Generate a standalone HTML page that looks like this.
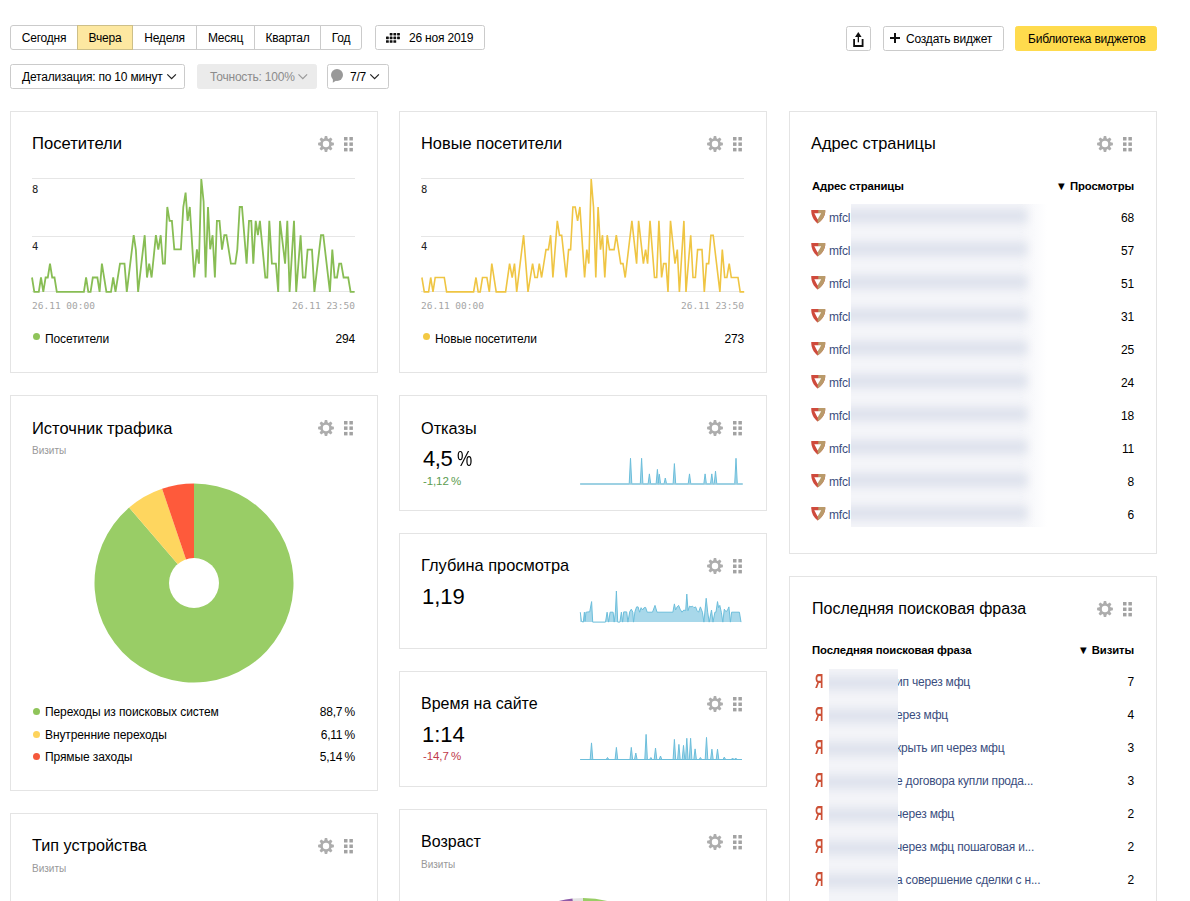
<!DOCTYPE html><html><head><meta charset="utf-8"><title>Metrica</title><style>
*{box-sizing:border-box;margin:0;padding:0}
html,body{width:1190px;height:901px;overflow:hidden;background:#fff}
body{position:relative;font-family:"Liberation Sans",Arial,sans-serif;color:#000;font-size:12px;letter-spacing:-0.2px}
.a{position:absolute;white-space:nowrap}
.btn{position:absolute;height:25px;border:1px solid #cbcbcb;border-radius:2.5px;background:#fff;line-height:24px;font-size:12px;white-space:nowrap;color:#000}
.seg{position:absolute;top:0;height:25px;border:1px solid #cbcbcb;line-height:24px;text-align:center;background:#fff}
.card{position:absolute;border:1px solid #e4e4e4;background:#fff}
.ttl{position:absolute;font-size:16.5px;line-height:16px;letter-spacing:0;color:#000;white-space:nowrap}
.sub{position:absolute;font-size:10px;line-height:10px;color:#999;white-space:nowrap;letter-spacing:0}
.lg{position:absolute;font-size:12px;line-height:12px;white-space:nowrap;letter-spacing:-0.1px}
.num{position:absolute;font-size:12px;line-height:12px;white-space:nowrap;text-align:right}
.th{position:absolute;font-size:11.3px;line-height:11px;font-weight:bold;white-space:nowrap;letter-spacing:-0.1px}
.mono{position:absolute;font-family:"DejaVu Sans Mono",monospace;font-size:9.5px;line-height:10px;letter-spacing:0;white-space:nowrap}
.dot{position:absolute;width:7px;height:7px;border-radius:50%}
.lnk{position:absolute;font-size:12px;line-height:12px;color:#3a4d7e;white-space:nowrap}
.big{position:absolute;font-size:22px;line-height:22px;letter-spacing:0;color:#000;white-space:nowrap}
.chg{position:absolute;font-size:11.5px;line-height:11px;white-space:nowrap;letter-spacing:-0.1px}
</style></head><body><div class="a" style="left:0;top:25px;width:400px;height:25px">
<div class="seg" style="left:10px;width:68px;border-radius:3px 0 0 3px;">Сегодня</div>
<div class="seg" style="left:77px;width:56px;background:#fde8a1;border-color:#cdbf88;z-index:2;">Вчера</div>
<div class="seg" style="left:132px;width:65px;">Неделя</div>
<div class="seg" style="left:196px;width:59px;">Месяц</div>
<div class="seg" style="left:254px;width:67px;">Квартал</div>
<div class="seg" style="left:320px;width:42px;border-radius:0 3px 3px 0;">Год</div>
</div>
<div class="btn" style="left:375px;top:25px;width:110px;padding-left:33px">26 ноя 2019</div>
<div class="btn" style="left:846px;top:26px;width:25px"></div>
<div class="btn" style="left:883px;top:26px;width:121px;padding-left:22px">Создать виджет</div>
<div class="btn" style="left:1015px;top:26px;width:142px;border-color:#ffdb4d;background:#ffdb4d;padding-left:12px">Библиотека виджетов</div>
<div class="btn" style="left:10px;top:64px;width:175px;padding-left:11px">Детализация: по 10 минут</div>
<div class="btn" style="left:197px;top:64px;width:120px;padding-left:12px;background:#ebebeb;border-color:#ebebeb;color:#8c8c8c">Точность: 100%</div>
<div class="btn" style="left:327px;top:64px;width:62px;padding-left:22px">7/7</div>
<div class="card" style="left:10px;top:111px;width:368px;height:262px"></div>
<div class="card" style="left:399px;top:111px;width:368px;height:262px"></div>
<div class="card" style="left:789px;top:111px;width:368px;height:443px"></div>
<div class="card" style="left:10px;top:395px;width:368px;height:396px"></div>
<div class="card" style="left:399px;top:395px;width:368px;height:116px"></div>
<div class="card" style="left:399px;top:533px;width:368px;height:116px"></div>
<div class="card" style="left:399px;top:671px;width:368px;height:116px"></div>
<div class="card" style="left:399px;top:809px;width:368px;height:200px"></div>
<div class="card" style="left:10px;top:813px;width:368px;height:200px"></div>
<div class="card" style="left:789px;top:576px;width:368px;height:400px"></div>
<div class="ttl" style="left:32px;top:136px;font-size:16.6px">Посетители</div>
<div class="ttl" style="left:421px;top:135px;font-size:16.4px">Новые посетители</div>
<div class="ttl" style="left:811px;top:135px;font-size:16.4px">Адрес страницы</div>
<div class="ttl" style="left:32px;top:420px;font-size:16.5px">Источник трафика</div>
<div class="sub" style="left:32px;top:446px;">Визиты</div>
<div class="ttl" style="left:421px;top:420px;font-size:16.3px">Отказы</div>
<div class="ttl" style="left:421px;top:557px;font-size:16.4px">Глубина просмотра</div>
<div class="ttl" style="left:421px;top:696px;font-size:16.0px">Время на сайте</div>
<div class="ttl" style="left:421px;top:834px;font-size:16.0px">Возраст</div>
<div class="sub" style="left:421px;top:860px;">Визиты</div>
<div class="ttl" style="left:32px;top:837px;font-size:16.2px">Тип устройства</div>
<div class="sub" style="left:32px;top:864px;">Визиты</div>
<div class="ttl" style="left:812px;top:601px;font-size:16.0px">Последняя поисковая фраза</div>
<div class="mono" style="left:32px;top:184px;color:#222;font-size:10.5px">8</div>
<div class="mono" style="left:32px;top:241px;color:#222;font-size:10.5px">4</div>
<div class="mono" style="left:32px;top:301px;color:#a5a5a5">26.11 00:00</div>
<div class="mono" style="right:835px;top:301px;color:#a5a5a5">26.11 23:50</div>
<div class="mono" style="left:421px;top:184px;color:#222;font-size:10.5px">8</div>
<div class="mono" style="left:421px;top:241px;color:#222;font-size:10.5px">4</div>
<div class="mono" style="left:421px;top:301px;color:#a5a5a5">26.11 00:00</div>
<div class="mono" style="right:446px;top:301px;color:#a5a5a5">26.11 23:50</div>
<div class="dot" style="left:33px;top:333px;background:#8fc45a"></div>
<div class="lg" style="left:45px;top:333px;">Посетители</div>
<div class="num" style="right:835px;top:333px;">294</div>
<div class="dot" style="left:423px;top:333px;background:#f3c944"></div>
<div class="lg" style="left:435px;top:333px;">Новые посетители</div>
<div class="num" style="right:446px;top:333px;">273</div>
<div class="dot" style="left:33px;top:708.0px;background:#8fc45a"></div>
<div class="lg" style="left:45px;top:706.0px;">Переходы из поисковых систем</div>
<div class="num" style="right:835px;top:706.0px;">88,7&#8201;%</div>
<div class="dot" style="left:33px;top:730.5px;background:#fdd35c"></div>
<div class="lg" style="left:45px;top:728.5px;">Внутренние переходы</div>
<div class="num" style="right:835px;top:728.5px;">6,11&#8201;%</div>
<div class="dot" style="left:33px;top:753.0px;background:#f5583b"></div>
<div class="lg" style="left:45px;top:751.0px;">Прямые заходы</div>
<div class="num" style="right:835px;top:751.0px;">5,14&#8201;%</div>
<div class="big" style="left:423px;top:448px;letter-spacing:-0.4px">4,5<span style="position:absolute;left:33.5px;top:0;transform:scaleX(0.78);transform-origin:0 0">%</span></div>
<div class="chg" style="left:423px;top:476px;color:#5c9c4f">-1,12&#8201;%</div>
<div class="big" style="left:422px;top:586px;">1,19</div>
<div class="big" style="left:422px;top:724px;">1:14</div>
<div class="chg" style="left:423px;top:751px;color:#c0394a">-14,7&#8201;%</div>
<div class="th" style="left:812px;top:181px;">Адрес страницы</div>
<div class="th" style="right:56px;top:181px;">&#9660; Просмотры</div>
<div class="lnk" style="left:829px;top:212px;">mfcl</div>
<div class="num" style="right:56px;top:212px;">68</div>
<div class="lnk" style="left:829px;top:245px;">mfcl</div>
<div class="num" style="right:56px;top:245px;">57</div>
<div class="lnk" style="left:829px;top:278px;">mfcl</div>
<div class="num" style="right:56px;top:278px;">51</div>
<div class="lnk" style="left:829px;top:311px;">mfcl</div>
<div class="num" style="right:56px;top:311px;">31</div>
<div class="lnk" style="left:829px;top:344px;">mfcl</div>
<div class="num" style="right:56px;top:344px;">25</div>
<div class="lnk" style="left:829px;top:377px;">mfcl</div>
<div class="num" style="right:56px;top:377px;">24</div>
<div class="lnk" style="left:829px;top:410px;">mfcl</div>
<div class="num" style="right:56px;top:410px;">18</div>
<div class="lnk" style="left:829px;top:443px;">mfcl</div>
<div class="num" style="right:56px;top:443px;">11</div>
<div class="lnk" style="left:829px;top:476px;">mfcl</div>
<div class="num" style="right:56px;top:476px;">8</div>
<div class="lnk" style="left:829px;top:509px;">mfcl</div>
<div class="num" style="right:56px;top:509px;">6</div>
<div class="a" style="left:851px;top:204px;width:196px;height:323px;overflow:hidden;background:linear-gradient(to right,#f4f5f9 0,#f4f5f9 170px,rgba(255,255,255,0) 196px)">
<div class="a" style="left:-10px;top:5px;width:186px;height:14px;background:#dfe3ed;filter:blur(4.5px)"></div>
<div class="a" style="left:-10px;top:38px;width:186px;height:14px;background:#dfe3ed;filter:blur(4.5px)"></div>
<div class="a" style="left:-10px;top:71px;width:186px;height:14px;background:#dfe3ed;filter:blur(4.5px)"></div>
<div class="a" style="left:-10px;top:104px;width:186px;height:14px;background:#dfe3ed;filter:blur(4.5px)"></div>
<div class="a" style="left:-10px;top:137px;width:186px;height:14px;background:#dfe3ed;filter:blur(4.5px)"></div>
<div class="a" style="left:-10px;top:170px;width:186px;height:14px;background:#dfe3ed;filter:blur(4.5px)"></div>
<div class="a" style="left:-10px;top:203px;width:186px;height:14px;background:#dfe3ed;filter:blur(4.5px)"></div>
<div class="a" style="left:-10px;top:236px;width:186px;height:14px;background:#dfe3ed;filter:blur(4.5px)"></div>
<div class="a" style="left:-10px;top:269px;width:186px;height:14px;background:#dfe3ed;filter:blur(4.5px)"></div>
<div class="a" style="left:-10px;top:302px;width:186px;height:14px;background:#dfe3ed;filter:blur(4.5px)"></div>
</div>
<div class="th" style="left:812px;top:645px;">Последняя поисковая фраза</div>
<div class="th" style="right:56px;top:645px;">&#9660; Визиты</div>
<div class="a" style="left:814.6px;top:670px;font-size:20.5px;line-height:21px;color:#cc5036;font-weight:bold;letter-spacing:0;transform:scaleX(0.56);transform-origin:0 0">Я</div>
<div class="lnk" style="left:896px;top:676px;">ип через мфц</div>
<div class="num" style="right:56px;top:676px;">7</div>
<div class="a" style="left:814.6px;top:703px;font-size:20.5px;line-height:21px;color:#cc5036;font-weight:bold;letter-spacing:0;transform:scaleX(0.56);transform-origin:0 0">Я</div>
<div class="lnk" style="left:896px;top:709px;">ерез мфц</div>
<div class="num" style="right:56px;top:709px;">4</div>
<div class="a" style="left:814.6px;top:736px;font-size:20.5px;line-height:21px;color:#cc5036;font-weight:bold;letter-spacing:0;transform:scaleX(0.56);transform-origin:0 0">Я</div>
<div class="lnk" style="left:896px;top:742px;">крыть ип через мфц</div>
<div class="num" style="right:56px;top:742px;">3</div>
<div class="a" style="left:814.6px;top:769px;font-size:20.5px;line-height:21px;color:#cc5036;font-weight:bold;letter-spacing:0;transform:scaleX(0.56);transform-origin:0 0">Я</div>
<div class="lnk" style="left:896px;top:775px;">е договора купли прода...</div>
<div class="num" style="right:56px;top:775px;">3</div>
<div class="a" style="left:814.6px;top:802px;font-size:20.5px;line-height:21px;color:#cc5036;font-weight:bold;letter-spacing:0;transform:scaleX(0.56);transform-origin:0 0">Я</div>
<div class="lnk" style="left:896px;top:808px;">через мфц</div>
<div class="num" style="right:56px;top:808px;">2</div>
<div class="a" style="left:814.6px;top:835px;font-size:20.5px;line-height:21px;color:#cc5036;font-weight:bold;letter-spacing:0;transform:scaleX(0.56);transform-origin:0 0">Я</div>
<div class="lnk" style="left:896px;top:841px;">через мфц пошаговая и...</div>
<div class="num" style="right:56px;top:841px;">2</div>
<div class="a" style="left:814.6px;top:868px;font-size:20.5px;line-height:21px;color:#cc5036;font-weight:bold;letter-spacing:0;transform:scaleX(0.56);transform-origin:0 0">Я</div>
<div class="lnk" style="left:896px;top:874px;">а совершение сделки с н...</div>
<div class="num" style="right:56px;top:874px;">2</div>
<div class="a" style="left:829px;top:669px;width:69px;height:232px;overflow:hidden;background:#f3f4f8">
<div class="a" style="left:-10px;top:7px;width:95px;height:14px;background:#dfe3ed;filter:blur(4.5px)"></div>
<div class="a" style="left:-10px;top:40px;width:95px;height:14px;background:#dfe3ed;filter:blur(4.5px)"></div>
<div class="a" style="left:-10px;top:73px;width:95px;height:14px;background:#dfe3ed;filter:blur(4.5px)"></div>
<div class="a" style="left:-10px;top:106px;width:95px;height:14px;background:#dfe3ed;filter:blur(4.5px)"></div>
<div class="a" style="left:-10px;top:139px;width:95px;height:14px;background:#dfe3ed;filter:blur(4.5px)"></div>
<div class="a" style="left:-10px;top:172px;width:95px;height:14px;background:#dfe3ed;filter:blur(4.5px)"></div>
<div class="a" style="left:-10px;top:205px;width:95px;height:14px;background:#dfe3ed;filter:blur(4.5px)"></div>
</div>
<svg class="a" style="left:0;top:0" width="1190" height="901" viewBox="0 0 1190 901"><rect x="32" y="178" width="323" height="1" fill="#e6e6e6"/><rect x="32" y="236" width="323" height="1" fill="#e6e6e6"/><rect x="32" y="291" width="323" height="1" fill="#e6e6e6"/><rect x="421" y="178" width="323" height="1" fill="#e6e6e6"/><rect x="421" y="236" width="323" height="1" fill="#e6e6e6"/><rect x="421" y="291" width="323" height="1" fill="#e6e6e6"/><polyline points="32.0,277.5 34.3,291.9 38.8,291.9 41.0,277.5 43.3,291.9 45.6,277.5 47.8,277.5 50.0,263.6 52.2,277.5 54.5,277.5 56.8,291.9 83.9,291.9 86.1,277.5 88.3,291.9 90.6,291.9 92.8,277.5 97.4,277.5 99.6,291.9 101.9,263.6 106.4,291.9 111.0,291.9 113.2,277.5 115.5,291.9 120.0,263.6 124.5,263.6 126.8,291.9 133.7,235.2 135.9,250.2 138.1,291.9 144.7,235.2 147.0,277.5 149.2,263.6 151.6,277.5 155.9,235.2 158.3,249.6 160.7,235.2 162.9,263.6 164.9,263.6 167.3,207.0 169.6,220.9 171.9,220.9 174.3,249.3 180.9,249.3 183.3,207.0 185.6,192.6 187.6,220.9 189.8,207.0 194.2,277.5 196.9,249.3 198.9,263.6 201.3,179.0 203.6,201.6 205.6,277.5 208.0,207.0 210.2,249.3 212.6,235.2 214.9,277.5 216.9,220.9 219.5,220.9 222.0,249.6 224.3,235.2 226.4,235.2 230.9,263.6 235.3,263.6 237.3,249.6 239.7,207.0 242.0,207.0 246.6,263.6 249.0,220.9 251.3,220.9 253.3,263.6 255.7,220.9 257.9,235.2 259.9,220.9 265.3,277.5 267.3,277.5 269.3,220.9 271.9,263.6 275.9,263.6 278.2,291.9 280.0,220.9 285.1,263.6 287.3,220.9 289.6,291.9 294.0,220.9 296.2,291.9 300.6,235.2 302.9,277.5 305.3,277.5 307.6,249.6 312.0,249.6 314.4,291.9 321.0,235.2 323.3,235.2 329.9,291.9 332.3,249.6 334.6,277.5 337.0,277.5 339.2,263.6 341.2,263.6 343.6,277.5 348.2,277.5 350.6,291.9 354.6,291.9" fill="none" stroke="#88bd54" stroke-width="1.8" stroke-linejoin="miter"/><polyline points="421.9,277.5 424.3,291.9 428.6,291.9 430.7,277.5 433.0,291.9 435.2,277.5 444.3,277.5 446.6,291.9 473.6,291.9 476.0,277.5 478.2,291.9 480.2,291.9 482.5,277.5 486.9,277.5 489.3,291.9 491.8,263.6 496.2,291.9 505.6,291.9 509.6,263.6 512.2,277.5 514.5,263.6 516.7,291.9 523.6,235.2 528.0,291.9 532.6,263.6 534.9,277.5 537.3,277.5 539.3,263.6 541.6,277.5 546.0,249.6 548.4,249.6 550.6,235.2 552.9,277.5 557.3,220.9 559.5,235.2 561.7,235.2 566.2,277.5 568.6,249.6 570.6,249.6 572.9,207.0 575.2,207.0 577.6,220.9 579.9,207.0 584.6,277.5 586.8,249.6 588.8,263.6 591.2,179.0 593.5,207.0 595.8,277.5 598.1,207.0 600.5,249.6 602.5,235.2 604.8,277.5 607.2,235.2 609.5,249.6 614.1,249.6 616.3,235.2 620.7,263.6 623.0,263.6 625.2,277.5 631.9,220.9 636.6,263.6 638.6,220.9 643.4,263.6 645.6,249.6 647.6,263.6 650.0,220.9 654.5,277.5 656.7,277.5 658.9,220.9 661.6,277.5 663.6,263.6 666.0,263.6 668.0,291.9 670.5,220.9 675.0,263.6 677.3,249.6 679.4,291.9 683.9,220.9 686.0,291.9 690.7,235.2 693.0,277.5 695.4,277.5 697.6,249.6 702.0,249.6 704.3,291.9 706.5,263.6 708.7,263.6 710.9,235.2 713.2,235.2 719.9,291.9 722.3,249.6 724.7,277.5 726.9,277.5 729.2,263.6 731.3,277.5 738.0,277.5 740.2,291.9 744.2,291.9" fill="none" stroke="#efc543" stroke-width="1.6" stroke-linejoin="miter"/><g fill="#adadad"><path d="M324.10,139.50 L324.80,136.10 L327.20,136.10 L327.90,139.50 Z" transform="rotate(0 326 144)"/><path d="M324.10,139.50 L324.80,136.10 L327.20,136.10 L327.90,139.50 Z" transform="rotate(45 326 144)"/><path d="M324.10,139.50 L324.80,136.10 L327.20,136.10 L327.90,139.50 Z" transform="rotate(90 326 144)"/><path d="M324.10,139.50 L324.80,136.10 L327.20,136.10 L327.90,139.50 Z" transform="rotate(135 326 144)"/><path d="M324.10,139.50 L324.80,136.10 L327.20,136.10 L327.90,139.50 Z" transform="rotate(180 326 144)"/><path d="M324.10,139.50 L324.80,136.10 L327.20,136.10 L327.90,139.50 Z" transform="rotate(225 326 144)"/><path d="M324.10,139.50 L324.80,136.10 L327.20,136.10 L327.90,139.50 Z" transform="rotate(270 326 144)"/><path d="M324.10,139.50 L324.80,136.10 L327.20,136.10 L327.90,139.50 Z" transform="rotate(315 326 144)"/><circle cx="326" cy="144" r="5.7"/></g><circle cx="326" cy="144" r="3.2" fill="#fff"/><g fill="#a2a2a2"><rect x="344.0" y="137.0" width="3.5" height="3.5"/><rect x="349.4" y="137.0" width="3.5" height="3.5"/><rect x="344.0" y="142.4" width="3.5" height="3.5"/><rect x="349.4" y="142.4" width="3.5" height="3.5"/><rect x="344.0" y="147.9" width="3.5" height="3.5"/><rect x="349.4" y="147.9" width="3.5" height="3.5"/></g><g fill="#adadad"><path d="M713.10,139.50 L713.80,136.10 L716.20,136.10 L716.90,139.50 Z" transform="rotate(0 715 144)"/><path d="M713.10,139.50 L713.80,136.10 L716.20,136.10 L716.90,139.50 Z" transform="rotate(45 715 144)"/><path d="M713.10,139.50 L713.80,136.10 L716.20,136.10 L716.90,139.50 Z" transform="rotate(90 715 144)"/><path d="M713.10,139.50 L713.80,136.10 L716.20,136.10 L716.90,139.50 Z" transform="rotate(135 715 144)"/><path d="M713.10,139.50 L713.80,136.10 L716.20,136.10 L716.90,139.50 Z" transform="rotate(180 715 144)"/><path d="M713.10,139.50 L713.80,136.10 L716.20,136.10 L716.90,139.50 Z" transform="rotate(225 715 144)"/><path d="M713.10,139.50 L713.80,136.10 L716.20,136.10 L716.90,139.50 Z" transform="rotate(270 715 144)"/><path d="M713.10,139.50 L713.80,136.10 L716.20,136.10 L716.90,139.50 Z" transform="rotate(315 715 144)"/><circle cx="715" cy="144" r="5.7"/></g><circle cx="715" cy="144" r="3.2" fill="#fff"/><g fill="#a2a2a2"><rect x="733.0" y="137.0" width="3.5" height="3.5"/><rect x="738.4" y="137.0" width="3.5" height="3.5"/><rect x="733.0" y="142.4" width="3.5" height="3.5"/><rect x="738.4" y="142.4" width="3.5" height="3.5"/><rect x="733.0" y="147.9" width="3.5" height="3.5"/><rect x="738.4" y="147.9" width="3.5" height="3.5"/></g><g fill="#adadad"><path d="M1103.10,139.50 L1103.80,136.10 L1106.20,136.10 L1106.90,139.50 Z" transform="rotate(0 1105 144)"/><path d="M1103.10,139.50 L1103.80,136.10 L1106.20,136.10 L1106.90,139.50 Z" transform="rotate(45 1105 144)"/><path d="M1103.10,139.50 L1103.80,136.10 L1106.20,136.10 L1106.90,139.50 Z" transform="rotate(90 1105 144)"/><path d="M1103.10,139.50 L1103.80,136.10 L1106.20,136.10 L1106.90,139.50 Z" transform="rotate(135 1105 144)"/><path d="M1103.10,139.50 L1103.80,136.10 L1106.20,136.10 L1106.90,139.50 Z" transform="rotate(180 1105 144)"/><path d="M1103.10,139.50 L1103.80,136.10 L1106.20,136.10 L1106.90,139.50 Z" transform="rotate(225 1105 144)"/><path d="M1103.10,139.50 L1103.80,136.10 L1106.20,136.10 L1106.90,139.50 Z" transform="rotate(270 1105 144)"/><path d="M1103.10,139.50 L1103.80,136.10 L1106.20,136.10 L1106.90,139.50 Z" transform="rotate(315 1105 144)"/><circle cx="1105" cy="144" r="5.7"/></g><circle cx="1105" cy="144" r="3.2" fill="#fff"/><g fill="#a2a2a2"><rect x="1123.0" y="137.0" width="3.5" height="3.5"/><rect x="1128.4" y="137.0" width="3.5" height="3.5"/><rect x="1123.0" y="142.4" width="3.5" height="3.5"/><rect x="1128.4" y="142.4" width="3.5" height="3.5"/><rect x="1123.0" y="147.9" width="3.5" height="3.5"/><rect x="1128.4" y="147.9" width="3.5" height="3.5"/></g><g fill="#adadad"><path d="M324.10,423.50 L324.80,420.10 L327.20,420.10 L327.90,423.50 Z" transform="rotate(0 326 428)"/><path d="M324.10,423.50 L324.80,420.10 L327.20,420.10 L327.90,423.50 Z" transform="rotate(45 326 428)"/><path d="M324.10,423.50 L324.80,420.10 L327.20,420.10 L327.90,423.50 Z" transform="rotate(90 326 428)"/><path d="M324.10,423.50 L324.80,420.10 L327.20,420.10 L327.90,423.50 Z" transform="rotate(135 326 428)"/><path d="M324.10,423.50 L324.80,420.10 L327.20,420.10 L327.90,423.50 Z" transform="rotate(180 326 428)"/><path d="M324.10,423.50 L324.80,420.10 L327.20,420.10 L327.90,423.50 Z" transform="rotate(225 326 428)"/><path d="M324.10,423.50 L324.80,420.10 L327.20,420.10 L327.90,423.50 Z" transform="rotate(270 326 428)"/><path d="M324.10,423.50 L324.80,420.10 L327.20,420.10 L327.90,423.50 Z" transform="rotate(315 326 428)"/><circle cx="326" cy="428" r="5.7"/></g><circle cx="326" cy="428" r="3.2" fill="#fff"/><g fill="#a2a2a2"><rect x="344.0" y="421.0" width="3.5" height="3.5"/><rect x="349.4" y="421.0" width="3.5" height="3.5"/><rect x="344.0" y="426.4" width="3.5" height="3.5"/><rect x="349.4" y="426.4" width="3.5" height="3.5"/><rect x="344.0" y="431.9" width="3.5" height="3.5"/><rect x="349.4" y="431.9" width="3.5" height="3.5"/></g><g fill="#adadad"><path d="M713.10,423.50 L713.80,420.10 L716.20,420.10 L716.90,423.50 Z" transform="rotate(0 715 428)"/><path d="M713.10,423.50 L713.80,420.10 L716.20,420.10 L716.90,423.50 Z" transform="rotate(45 715 428)"/><path d="M713.10,423.50 L713.80,420.10 L716.20,420.10 L716.90,423.50 Z" transform="rotate(90 715 428)"/><path d="M713.10,423.50 L713.80,420.10 L716.20,420.10 L716.90,423.50 Z" transform="rotate(135 715 428)"/><path d="M713.10,423.50 L713.80,420.10 L716.20,420.10 L716.90,423.50 Z" transform="rotate(180 715 428)"/><path d="M713.10,423.50 L713.80,420.10 L716.20,420.10 L716.90,423.50 Z" transform="rotate(225 715 428)"/><path d="M713.10,423.50 L713.80,420.10 L716.20,420.10 L716.90,423.50 Z" transform="rotate(270 715 428)"/><path d="M713.10,423.50 L713.80,420.10 L716.20,420.10 L716.90,423.50 Z" transform="rotate(315 715 428)"/><circle cx="715" cy="428" r="5.7"/></g><circle cx="715" cy="428" r="3.2" fill="#fff"/><g fill="#a2a2a2"><rect x="733.0" y="421.0" width="3.5" height="3.5"/><rect x="738.4" y="421.0" width="3.5" height="3.5"/><rect x="733.0" y="426.4" width="3.5" height="3.5"/><rect x="738.4" y="426.4" width="3.5" height="3.5"/><rect x="733.0" y="431.9" width="3.5" height="3.5"/><rect x="738.4" y="431.9" width="3.5" height="3.5"/></g><g fill="#adadad"><path d="M713.10,561.50 L713.80,558.10 L716.20,558.10 L716.90,561.50 Z" transform="rotate(0 715 566)"/><path d="M713.10,561.50 L713.80,558.10 L716.20,558.10 L716.90,561.50 Z" transform="rotate(45 715 566)"/><path d="M713.10,561.50 L713.80,558.10 L716.20,558.10 L716.90,561.50 Z" transform="rotate(90 715 566)"/><path d="M713.10,561.50 L713.80,558.10 L716.20,558.10 L716.90,561.50 Z" transform="rotate(135 715 566)"/><path d="M713.10,561.50 L713.80,558.10 L716.20,558.10 L716.90,561.50 Z" transform="rotate(180 715 566)"/><path d="M713.10,561.50 L713.80,558.10 L716.20,558.10 L716.90,561.50 Z" transform="rotate(225 715 566)"/><path d="M713.10,561.50 L713.80,558.10 L716.20,558.10 L716.90,561.50 Z" transform="rotate(270 715 566)"/><path d="M713.10,561.50 L713.80,558.10 L716.20,558.10 L716.90,561.50 Z" transform="rotate(315 715 566)"/><circle cx="715" cy="566" r="5.7"/></g><circle cx="715" cy="566" r="3.2" fill="#fff"/><g fill="#a2a2a2"><rect x="733.0" y="559.0" width="3.5" height="3.5"/><rect x="738.4" y="559.0" width="3.5" height="3.5"/><rect x="733.0" y="564.5" width="3.5" height="3.5"/><rect x="738.4" y="564.5" width="3.5" height="3.5"/><rect x="733.0" y="569.9" width="3.5" height="3.5"/><rect x="738.4" y="569.9" width="3.5" height="3.5"/></g><g fill="#adadad"><path d="M713.10,699.50 L713.80,696.10 L716.20,696.10 L716.90,699.50 Z" transform="rotate(0 715 704)"/><path d="M713.10,699.50 L713.80,696.10 L716.20,696.10 L716.90,699.50 Z" transform="rotate(45 715 704)"/><path d="M713.10,699.50 L713.80,696.10 L716.20,696.10 L716.90,699.50 Z" transform="rotate(90 715 704)"/><path d="M713.10,699.50 L713.80,696.10 L716.20,696.10 L716.90,699.50 Z" transform="rotate(135 715 704)"/><path d="M713.10,699.50 L713.80,696.10 L716.20,696.10 L716.90,699.50 Z" transform="rotate(180 715 704)"/><path d="M713.10,699.50 L713.80,696.10 L716.20,696.10 L716.90,699.50 Z" transform="rotate(225 715 704)"/><path d="M713.10,699.50 L713.80,696.10 L716.20,696.10 L716.90,699.50 Z" transform="rotate(270 715 704)"/><path d="M713.10,699.50 L713.80,696.10 L716.20,696.10 L716.90,699.50 Z" transform="rotate(315 715 704)"/><circle cx="715" cy="704" r="5.7"/></g><circle cx="715" cy="704" r="3.2" fill="#fff"/><g fill="#a2a2a2"><rect x="733.0" y="697.0" width="3.5" height="3.5"/><rect x="738.4" y="697.0" width="3.5" height="3.5"/><rect x="733.0" y="702.5" width="3.5" height="3.5"/><rect x="738.4" y="702.5" width="3.5" height="3.5"/><rect x="733.0" y="707.9" width="3.5" height="3.5"/><rect x="738.4" y="707.9" width="3.5" height="3.5"/></g><g fill="#adadad"><path d="M713.10,837.50 L713.80,834.10 L716.20,834.10 L716.90,837.50 Z" transform="rotate(0 715 842)"/><path d="M713.10,837.50 L713.80,834.10 L716.20,834.10 L716.90,837.50 Z" transform="rotate(45 715 842)"/><path d="M713.10,837.50 L713.80,834.10 L716.20,834.10 L716.90,837.50 Z" transform="rotate(90 715 842)"/><path d="M713.10,837.50 L713.80,834.10 L716.20,834.10 L716.90,837.50 Z" transform="rotate(135 715 842)"/><path d="M713.10,837.50 L713.80,834.10 L716.20,834.10 L716.90,837.50 Z" transform="rotate(180 715 842)"/><path d="M713.10,837.50 L713.80,834.10 L716.20,834.10 L716.90,837.50 Z" transform="rotate(225 715 842)"/><path d="M713.10,837.50 L713.80,834.10 L716.20,834.10 L716.90,837.50 Z" transform="rotate(270 715 842)"/><path d="M713.10,837.50 L713.80,834.10 L716.20,834.10 L716.90,837.50 Z" transform="rotate(315 715 842)"/><circle cx="715" cy="842" r="5.7"/></g><circle cx="715" cy="842" r="3.2" fill="#fff"/><g fill="#a2a2a2"><rect x="733.0" y="835.0" width="3.5" height="3.5"/><rect x="738.4" y="835.0" width="3.5" height="3.5"/><rect x="733.0" y="840.5" width="3.5" height="3.5"/><rect x="738.4" y="840.5" width="3.5" height="3.5"/><rect x="733.0" y="845.9" width="3.5" height="3.5"/><rect x="738.4" y="845.9" width="3.5" height="3.5"/></g><g fill="#adadad"><path d="M324.10,841.50 L324.80,838.10 L327.20,838.10 L327.90,841.50 Z" transform="rotate(0 326 846)"/><path d="M324.10,841.50 L324.80,838.10 L327.20,838.10 L327.90,841.50 Z" transform="rotate(45 326 846)"/><path d="M324.10,841.50 L324.80,838.10 L327.20,838.10 L327.90,841.50 Z" transform="rotate(90 326 846)"/><path d="M324.10,841.50 L324.80,838.10 L327.20,838.10 L327.90,841.50 Z" transform="rotate(135 326 846)"/><path d="M324.10,841.50 L324.80,838.10 L327.20,838.10 L327.90,841.50 Z" transform="rotate(180 326 846)"/><path d="M324.10,841.50 L324.80,838.10 L327.20,838.10 L327.90,841.50 Z" transform="rotate(225 326 846)"/><path d="M324.10,841.50 L324.80,838.10 L327.20,838.10 L327.90,841.50 Z" transform="rotate(270 326 846)"/><path d="M324.10,841.50 L324.80,838.10 L327.20,838.10 L327.90,841.50 Z" transform="rotate(315 326 846)"/><circle cx="326" cy="846" r="5.7"/></g><circle cx="326" cy="846" r="3.2" fill="#fff"/><g fill="#a2a2a2"><rect x="344.0" y="839.0" width="3.5" height="3.5"/><rect x="349.4" y="839.0" width="3.5" height="3.5"/><rect x="344.0" y="844.5" width="3.5" height="3.5"/><rect x="349.4" y="844.5" width="3.5" height="3.5"/><rect x="344.0" y="849.9" width="3.5" height="3.5"/><rect x="349.4" y="849.9" width="3.5" height="3.5"/></g><g fill="#adadad"><path d="M1103.10,604.50 L1103.80,601.10 L1106.20,601.10 L1106.90,604.50 Z" transform="rotate(0 1105 609)"/><path d="M1103.10,604.50 L1103.80,601.10 L1106.20,601.10 L1106.90,604.50 Z" transform="rotate(45 1105 609)"/><path d="M1103.10,604.50 L1103.80,601.10 L1106.20,601.10 L1106.90,604.50 Z" transform="rotate(90 1105 609)"/><path d="M1103.10,604.50 L1103.80,601.10 L1106.20,601.10 L1106.90,604.50 Z" transform="rotate(135 1105 609)"/><path d="M1103.10,604.50 L1103.80,601.10 L1106.20,601.10 L1106.90,604.50 Z" transform="rotate(180 1105 609)"/><path d="M1103.10,604.50 L1103.80,601.10 L1106.20,601.10 L1106.90,604.50 Z" transform="rotate(225 1105 609)"/><path d="M1103.10,604.50 L1103.80,601.10 L1106.20,601.10 L1106.90,604.50 Z" transform="rotate(270 1105 609)"/><path d="M1103.10,604.50 L1103.80,601.10 L1106.20,601.10 L1106.90,604.50 Z" transform="rotate(315 1105 609)"/><circle cx="1105" cy="609" r="5.7"/></g><circle cx="1105" cy="609" r="3.2" fill="#fff"/><g fill="#a2a2a2"><rect x="1123.0" y="602.0" width="3.5" height="3.5"/><rect x="1128.4" y="602.0" width="3.5" height="3.5"/><rect x="1123.0" y="607.5" width="3.5" height="3.5"/><rect x="1128.4" y="607.5" width="3.5" height="3.5"/><rect x="1123.0" y="612.9" width="3.5" height="3.5"/><rect x="1128.4" y="612.9" width="3.5" height="3.5"/></g><path d="M194,583 L194.00,483.50 A99.5,99.5 0 1 1 129.12,507.57 Z" fill="#99cd66"/><path d="M194,583 L129.12,507.57 A99.5,99.5 0 0 1 162.10,488.75 Z" fill="#fed65f"/><path d="M194,583 L162.10,488.75 A99.5,99.5 0 0 1 194.00,483.50 Z" fill="#fe5a3b"/><circle cx="194" cy="583" r="25" fill="#fff"/><path d="M583,997 L583.00,898.00 A99,99 0 0 1 658.84,933.36 Z" fill="#99cd66"/><path d="M583,997 L549.14,903.97 A99,99 0 0 1 572.65,898.54 Z" fill="#8e5aa8"/><path d="M583,997 L572.65,898.54 A99,99 0 0 1 583.00,898.00 Z" fill="#e3e3e3"/><polygon points="580.3,484.0 629.2,484.0 630.5,458.3 631.8,484.0 640.3,484.0 641.6,458.3 642.9,484.0 648.1,484.0 649.4,473.9 650.7,484.0 656.1,484.0 657.4,469.4 658.7,484.0 658.0,484.0 659.3,474.2 660.6,484.0 664.0,484.0 665.3,478.0 666.6,484.0 673.1,484.0 674.4,463.6 675.7,484.0 688.2,484.0 689.5,473.9 690.8,484.0 703.8,484.0 705.1,473.9 706.4,484.0 710.5,484.0 711.8,473.9 713.1,484.0 714.2,484.0 715.5,471.2 716.8,484.0 734.7,484.0 736.0,458.3 737.3,484.0 742.5,484.0" fill="#a8d8ea" stroke="#6cbedb" stroke-width="1"/><rect x="580" y="483.5" width="163" height="1" fill="#a9d3e2"/><polygon points="580.3,622.0 580.3,612.2 581.4,621.3 583.3,622.1 584.4,612.2 585.1,621.3 585.9,612.2 586.9,612.2 587.9,611.9 589.7,611.9 591.6,601.6 592.7,622.1 605.5,622.1 607.1,612.2 608.6,622.1 610.1,612.2 613.1,612.2 614.2,622.1 615.4,612.2 616.4,591.0 617.7,622.1 619.9,622.1 621.4,612.2 622.6,622.1 623.7,611.9 626.7,611.9 627.9,622.1 629.8,611.5 631.3,609.2 632.8,612.2 633.5,622.1 635.0,611.5 636.6,606.9 638.1,606.9 639.6,612.2 641.1,607.7 642.6,610.0 644.1,607.7 645.6,607.4 647.2,612.2 652.5,612.2 655.0,605.4 657.0,612.2 672.9,612.2 674.4,603.9 675.6,610.0 677.1,606.9 678.6,605.4 680.1,609.2 682.0,612.2 683.8,610.0 685.7,610.7 686.8,594.1 688.0,610.7 689.5,606.2 691.0,606.9 692.5,606.2 694.0,607.7 695.6,606.9 697.1,610.7 698.6,612.2 700.4,606.9 702.4,612.2 703.9,622.1 706.2,598.3 707.7,612.2 709.2,622.1 711.5,610.0 713.0,622.1 714.9,612.2 716.0,612.2 717.5,601.6 718.6,607.7 719.8,605.4 721.3,612.2 722.8,622.1 724.3,609.2 725.8,611.5 727.3,610.7 728.9,606.9 730.4,622.1 731.6,612.2 739.4,612.2 741.0,622.1 741.0,622.0" fill="#a8d8ea" stroke="none"/><polyline points="580.3,612.2 581.4,621.3 583.3,622.1 584.4,612.2 585.1,621.3 585.9,612.2 586.9,612.2 587.9,611.9 589.7,611.9 591.6,601.6 592.7,622.1 605.5,622.1 607.1,612.2 608.6,622.1 610.1,612.2 613.1,612.2 614.2,622.1 615.4,612.2 616.4,591.0 617.7,622.1 619.9,622.1 621.4,612.2 622.6,622.1 623.7,611.9 626.7,611.9 627.9,622.1 629.8,611.5 631.3,609.2 632.8,612.2 633.5,622.1 635.0,611.5 636.6,606.9 638.1,606.9 639.6,612.2 641.1,607.7 642.6,610.0 644.1,607.7 645.6,607.4 647.2,612.2 652.5,612.2 655.0,605.4 657.0,612.2 672.9,612.2 674.4,603.9 675.6,610.0 677.1,606.9 678.6,605.4 680.1,609.2 682.0,612.2 683.8,610.0 685.7,610.7 686.8,594.1 688.0,610.7 689.5,606.2 691.0,606.9 692.5,606.2 694.0,607.7 695.6,606.9 697.1,610.7 698.6,612.2 700.4,606.9 702.4,612.2 703.9,622.1 706.2,598.3 707.7,612.2 709.2,622.1 711.5,610.0 713.0,622.1 714.9,612.2 716.0,612.2 717.5,601.6 718.6,607.7 719.8,605.4 721.3,612.2 722.8,622.1 724.3,609.2 725.8,611.5 727.3,610.7 728.9,606.9 730.4,622.1 731.6,612.2 739.4,612.2 741.0,622.1" fill="none" stroke="#6cbedb" stroke-width="1"/><polygon points="580.3,759.5 590.2,759.5 591.5,742.9 592.8,759.5 606.2,759.5 607.5,757.5 608.8,759.5 615.1,759.5 616.4,747.4 617.7,759.5 630.0,759.5 631.3,747.4 632.6,759.5 634.5,759.5 635.8,753.0 637.1,759.5 644.8,759.5 646.1,734.4 647.4,759.5 649.6,759.5 650.9,757.5 652.2,759.5 654.2,759.5 655.5,748.0 656.8,759.5 659.2,759.5 660.5,756.0 661.8,759.5 673.1,759.5 674.4,739.4 675.7,759.5 677.6,759.5 678.9,744.4 680.2,759.5 682.2,759.5 683.5,745.4 684.8,759.5 685.5,759.5 686.8,738.3 688.1,759.5 689.3,759.5 690.6,738.3 691.9,759.5 693.8,759.5 695.1,748.9 696.4,759.5 699.1,759.5 700.4,757.5 701.7,759.5 705.2,759.5 706.5,737.4 707.8,759.5 710.6,759.5 711.9,749.2 713.2,759.5 716.2,759.5 717.5,749.2 718.8,759.5 723.0,759.5 724.3,757.1 725.6,759.5 731.3,759.5 732.6,758.0 733.9,759.5 734.4,759.5 735.7,758.0 737.0,759.5 742.0,759.5" fill="#a8d8ea" stroke="#6cbedb" stroke-width="1"/><g transform="translate(811,210)"><path d="M0.2,0.3 Q0.2,0 0.6,0 L13.8,0 Q14.3,0 14.3,0.4 C14.3,6 11.2,10.4 6.6,13.4 C2.6,10.4 0.2,6 0.2,0.3 Z" fill="#cf4a3c"/><path d="M7.4,0 L13.8,0 Q14.3,0 14.3,0.4 C14.3,6 11.2,10.4 6.6,13.4 Z" fill="#b99a6a"/><path d="M3.3,3.2 L10.2,3.2 L6.6,9.4 Z" fill="#fff"/></g><g transform="translate(811,243)"><path d="M0.2,0.3 Q0.2,0 0.6,0 L13.8,0 Q14.3,0 14.3,0.4 C14.3,6 11.2,10.4 6.6,13.4 C2.6,10.4 0.2,6 0.2,0.3 Z" fill="#cf4a3c"/><path d="M7.4,0 L13.8,0 Q14.3,0 14.3,0.4 C14.3,6 11.2,10.4 6.6,13.4 Z" fill="#b99a6a"/><path d="M3.3,3.2 L10.2,3.2 L6.6,9.4 Z" fill="#fff"/></g><g transform="translate(811,276)"><path d="M0.2,0.3 Q0.2,0 0.6,0 L13.8,0 Q14.3,0 14.3,0.4 C14.3,6 11.2,10.4 6.6,13.4 C2.6,10.4 0.2,6 0.2,0.3 Z" fill="#cf4a3c"/><path d="M7.4,0 L13.8,0 Q14.3,0 14.3,0.4 C14.3,6 11.2,10.4 6.6,13.4 Z" fill="#b99a6a"/><path d="M3.3,3.2 L10.2,3.2 L6.6,9.4 Z" fill="#fff"/></g><g transform="translate(811,309)"><path d="M0.2,0.3 Q0.2,0 0.6,0 L13.8,0 Q14.3,0 14.3,0.4 C14.3,6 11.2,10.4 6.6,13.4 C2.6,10.4 0.2,6 0.2,0.3 Z" fill="#cf4a3c"/><path d="M7.4,0 L13.8,0 Q14.3,0 14.3,0.4 C14.3,6 11.2,10.4 6.6,13.4 Z" fill="#b99a6a"/><path d="M3.3,3.2 L10.2,3.2 L6.6,9.4 Z" fill="#fff"/></g><g transform="translate(811,342)"><path d="M0.2,0.3 Q0.2,0 0.6,0 L13.8,0 Q14.3,0 14.3,0.4 C14.3,6 11.2,10.4 6.6,13.4 C2.6,10.4 0.2,6 0.2,0.3 Z" fill="#cf4a3c"/><path d="M7.4,0 L13.8,0 Q14.3,0 14.3,0.4 C14.3,6 11.2,10.4 6.6,13.4 Z" fill="#b99a6a"/><path d="M3.3,3.2 L10.2,3.2 L6.6,9.4 Z" fill="#fff"/></g><g transform="translate(811,375)"><path d="M0.2,0.3 Q0.2,0 0.6,0 L13.8,0 Q14.3,0 14.3,0.4 C14.3,6 11.2,10.4 6.6,13.4 C2.6,10.4 0.2,6 0.2,0.3 Z" fill="#cf4a3c"/><path d="M7.4,0 L13.8,0 Q14.3,0 14.3,0.4 C14.3,6 11.2,10.4 6.6,13.4 Z" fill="#b99a6a"/><path d="M3.3,3.2 L10.2,3.2 L6.6,9.4 Z" fill="#fff"/></g><g transform="translate(811,408)"><path d="M0.2,0.3 Q0.2,0 0.6,0 L13.8,0 Q14.3,0 14.3,0.4 C14.3,6 11.2,10.4 6.6,13.4 C2.6,10.4 0.2,6 0.2,0.3 Z" fill="#cf4a3c"/><path d="M7.4,0 L13.8,0 Q14.3,0 14.3,0.4 C14.3,6 11.2,10.4 6.6,13.4 Z" fill="#b99a6a"/><path d="M3.3,3.2 L10.2,3.2 L6.6,9.4 Z" fill="#fff"/></g><g transform="translate(811,441)"><path d="M0.2,0.3 Q0.2,0 0.6,0 L13.8,0 Q14.3,0 14.3,0.4 C14.3,6 11.2,10.4 6.6,13.4 C2.6,10.4 0.2,6 0.2,0.3 Z" fill="#cf4a3c"/><path d="M7.4,0 L13.8,0 Q14.3,0 14.3,0.4 C14.3,6 11.2,10.4 6.6,13.4 Z" fill="#b99a6a"/><path d="M3.3,3.2 L10.2,3.2 L6.6,9.4 Z" fill="#fff"/></g><g transform="translate(811,474)"><path d="M0.2,0.3 Q0.2,0 0.6,0 L13.8,0 Q14.3,0 14.3,0.4 C14.3,6 11.2,10.4 6.6,13.4 C2.6,10.4 0.2,6 0.2,0.3 Z" fill="#cf4a3c"/><path d="M7.4,0 L13.8,0 Q14.3,0 14.3,0.4 C14.3,6 11.2,10.4 6.6,13.4 Z" fill="#b99a6a"/><path d="M3.3,3.2 L10.2,3.2 L6.6,9.4 Z" fill="#fff"/></g><g transform="translate(811,507)"><path d="M0.2,0.3 Q0.2,0 0.6,0 L13.8,0 Q14.3,0 14.3,0.4 C14.3,6 11.2,10.4 6.6,13.4 C2.6,10.4 0.2,6 0.2,0.3 Z" fill="#cf4a3c"/><path d="M7.4,0 L13.8,0 Q14.3,0 14.3,0.4 C14.3,6 11.2,10.4 6.6,13.4 Z" fill="#b99a6a"/><path d="M3.3,3.2 L10.2,3.2 L6.6,9.4 Z" fill="#fff"/></g><g fill="#111"><rect x="389.7" y="32.90" width="2.8" height="2.6" rx="0.4"/><rect x="393.4" y="32.90" width="2.8" height="2.6" rx="0.4"/><rect x="397.1" y="32.90" width="2.8" height="2.6" rx="0.4"/><rect x="386.0" y="36.55" width="2.8" height="2.6" rx="0.4"/><rect x="389.7" y="36.55" width="2.8" height="2.6" rx="0.4"/><rect x="393.4" y="36.55" width="2.8" height="2.6" rx="0.4"/><rect x="397.1" y="36.55" width="2.8" height="2.6" rx="0.4"/><rect x="386.0" y="40.20" width="2.8" height="2.6" rx="0.4"/><rect x="389.7" y="40.20" width="2.8" height="2.6" rx="0.4"/><rect x="393.4" y="40.20" width="2.8" height="2.6" rx="0.4"/></g><path d="M854.1,39 V46 H862.6 V39" fill="none" stroke="#111" stroke-width="1.8"/><path d="M855,37 L858.3,32 L861.6,37 Z" fill="#111"/><rect x="857.7" y="36" width="1.3" height="6.3" fill="#111"/><rect x="890" y="37" width="10" height="2" fill="#111"/><rect x="894" y="33" width="2" height="10" fill="#111"/><path d="M167.3,74.3 L171.60000000000002,78.6 L175.9,74.3" fill="none" stroke="#222" stroke-width="1.2"/><path d="M298.5,74.3 L302.8,78.6 L307.1,74.3" fill="none" stroke="#999" stroke-width="1.2"/><path d="M370.3,74.3 L374.6,78.6 L378.90000000000003,74.3" fill="none" stroke="#222" stroke-width="1.2"/><circle cx="337" cy="75" r="6" fill="#999"/><path d="M333,78 L332.8,82.8 L337,80 Z" fill="#999"/></svg></body></html>
